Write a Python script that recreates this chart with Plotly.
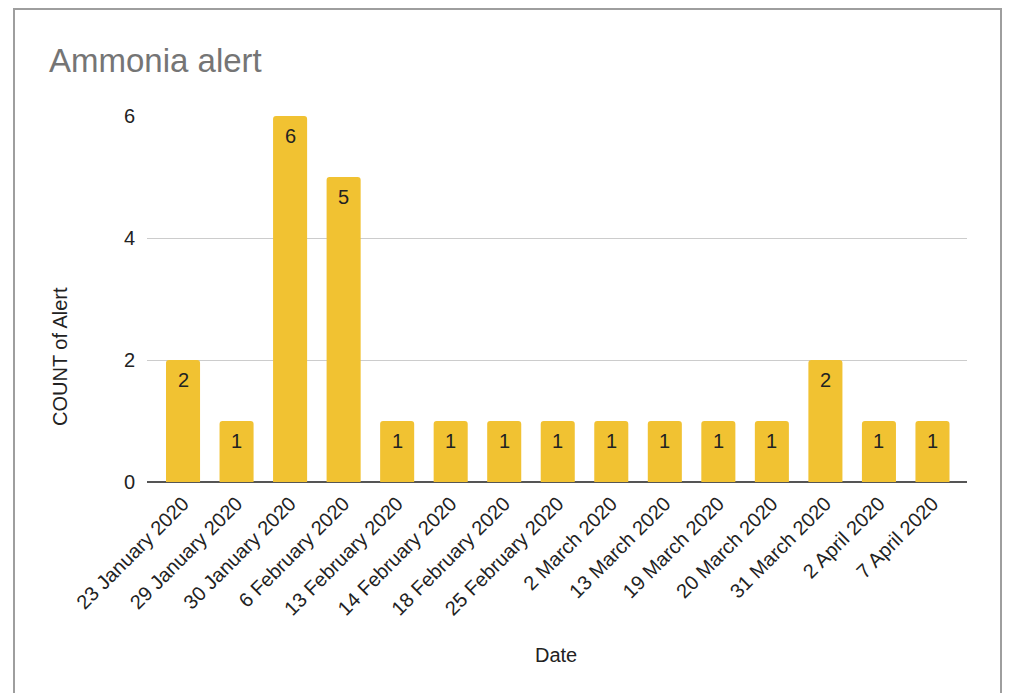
import plotly.graph_objects as go

dates = ["23 January 2020", "29 January 2020", "30 January 2020", "6 February 2020",
         "13 February 2020", "14 February 2020", "18 February 2020", "25 February 2020",
         "2 March 2020", "13 March 2020", "19 March 2020", "20 March 2020",
         "31 March 2020", "2 April 2020", "7 April 2020"]
counts = [2, 1, 6, 5, 1, 1, 1, 1, 1, 1, 1, 1, 2, 1, 1]
y_ticks = [0, 2, 4, 6]

FONT = "Liberation Sans, Arial, sans-serif"
OFF = 8  # page offset of the figure (body margin)

W, H = 1012, 693
L, R, T, B = 139, 53, 108, 219
PW, PH = W - L - R, H - T - B


def px(xp):
    return (xp - OFF - L) / PW


def py(yp):
    return (H - B - (yp - OFF)) / PH


fig = go.Figure()
fig.add_trace(go.Bar(
    x=dates, y=counts,
    marker=dict(color="#F1C232", line=dict(width=0)),
    hoverinfo="skip",
))

annotations = [
    dict(x=d, y=c, xref="x", yref="y", text=str(c), showarrow=False,
         xanchor="center", yanchor="top", yshift=-7,
         font=dict(family=FONT, size=20, color="#222222"))
    for d, c in zip(dates, counts)
]
annotations += [
    dict(text="Ammonia alert", xref="paper", yref="paper",
         x=px(47), y=py(61), xanchor="left", yanchor="middle", showarrow=False,
         font=dict(family=FONT, size=33, color="#757575")),
    dict(text="COUNT of Alert", xref="paper", yref="paper",
         x=px(60), y=py(357), xanchor="center", yanchor="middle", textangle=-90,
         showarrow=False, font=dict(family=FONT, size=20, color="#222222")),
    dict(text="Date", xref="paper", yref="paper",
         x=px(556), y=py(655), xanchor="center", yanchor="middle", showarrow=False,
         font=dict(family=FONT, size=20, color="#222222")),
]

fig.update_layout(
    width=W, height=H,
    margin=dict(l=L, r=R, t=T, b=B),
    paper_bgcolor="white", plot_bgcolor="white",
    bargap=0.364, barcornerradius=3,
    showlegend=False,
    font=dict(family=FONT, size=20, color="#222222"),
    xaxis=dict(
        range=[-0.673, len(dates) - 1 + 0.645],
        tickangle=-45, tickfont=dict(size=20, color="#222222"),
        ticklabelstandoff=5,
        showgrid=False, ticks="", showline=False,
    ),
    yaxis=dict(
        range=[0, 6.0001], tickvals=y_ticks, ticktext=[str(v) for v in y_ticks],
        tickfont=dict(size=20, color="#222222"), ticklabelstandoff=11,
        showgrid=True, gridcolor="#CCCCCC", gridwidth=1.3,
        zeroline=True, zerolinecolor="#555555", zerolinewidth=2,
        ticks="", showline=False,
    ),
    shapes=[dict(type="rect", xref="paper", yref="paper",
                 x0=px(14), x1=px(1001), y0=py(760), y1=py(9),
                 line=dict(color="#9E9E9E", width=2), fillcolor="rgba(0,0,0,0)",
                 layer="below")],
    annotations=annotations,
)

fig.write_html("out.html")
